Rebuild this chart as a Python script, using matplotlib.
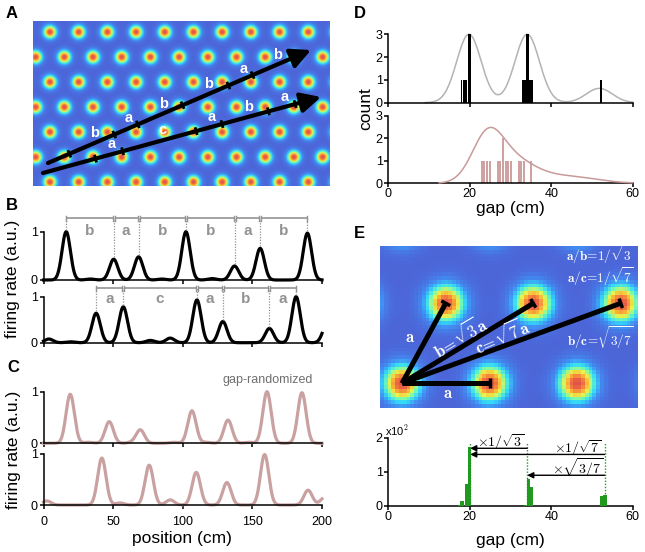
import numpy as np
import matplotlib
matplotlib.use('Agg')
import matplotlib.pyplot as plt
from matplotlib.colors import LinearSegmentedColormap

plt.rcParams['font.family'] = ['Liberation Sans', 'DejaVu Sans']
plt.rcParams['mathtext.fontset'] = 'cm'
plt.rcParams['axes.linewidth'] = 1.1

# ---------------- data ----------------
pos_max = 200.0  # track length (cm)

b_top_peaks = [16.3, 50.4, 68.3, 102.3, 137.2, 155.6, 189.5]
b_top_heights = [1.0, 0.43, 0.48, 1.0, 0.29, 0.655, 0.97]
b_top_gap_labels = ['b', 'a', 'b', 'b', 'a', 'b']
b_top_bumps = [33.7, 85.0, 121.0]
b_top_bump_heights = [0.02, 0.02, 0.03]

b_bot_peaks = [37.8, 57.3, 110.2, 128.8, 162.2, 181.4]
b_bot_heights = [0.64, 0.78, 0.93, 0.46, 0.31, 1.0]
b_bot_gap_labels = ['a', 'c', 'a', 'b', 'a']
b_bot_bumps = [3.8, 19.4, 76.7, 91.0, 203.5]
b_bot_bump_heights = [0.08, 0.02, 0.05, 0.10, 0.40]

c_top_peaks = [19.2, 47.2, 69.5, 106.6, 132.5, 160.5, 185.6]
c_top_heights = [0.95, 0.42, 0.26, 0.63, 0.45, 1.0, 0.98]
c_top_bumps = [32.3, 63.5, 93.4, 117.0, 147.0]
c_top_bump_heights = [0.02, 0.02, 0.02, 0.02, 0.02]

c_bot_peaks = [41.9, 75.9, 109.7, 131.7, 158.8, 190.0]
c_bot_heights = [0.92, 0.78, 0.64, 0.44, 0.99, 0.29]
c_bot_bumps = [2.4, 55.0, 91.0, 202.0]
c_bot_bump_heights = [0.08, 0.04, 0.10, 0.15]

field_sigma_cm = 3.0

# D: gap histograms (cm, count)
d_top_gaps = [18.0, 18.5, 19.0, 19.9, 33.0, 33.5, 34.1, 34.7, 35.2, 52.2]
d_top_counts = [1, 1, 1, 3, 1, 1, 3, 1, 1, 1]
d_top_kde_means = [19.8, 34.1, 51.8]
d_top_kde_heights = [3.0, 3.0, 0.63]
d_top_kde_sigmas = [3.0, 3.0, 3.2]

d_bot_gaps = [22.9, 23.6, 24.3, 25.0, 27.0, 27.5, 28.1, 28.8, 29.4, 30.1,
              32.0, 32.5, 33.2, 35.1]
d_bot_counts = [1, 1, 1, 1, 1, 1, 2, 1, 1, 1, 1, 1, 1, 1]
d_bot_kde_means = [24.3, 30.5, 44.0]
d_bot_kde_heights = [1.9, 1.0, 0.3]
d_bot_kde_sigmas = [3.8, 5.5, 7.0]

# E: gap histogram (x10^2)
e_gaps = [17.4, 18.1, 19.1, 20.0, 33.8, 34.4, 35.2, 52.4, 53.2]
e_counts = [0.03, 0.15, 0.64, 1.72, 0.04, 0.78, 0.56, 0.30, 0.31]
e_ref_gaps = [20.1, 34.1, 53.1]          # a, b, c
e_arrow_pairs = [(1, 0), (2, 0), (2, 1)]  # from -> to (indices into e_ref_gaps)
e_arrow_levels = [1.69, 1.51, 0.90]
e_arrow_labels = [r'$\times 1/\sqrt{3}$', r'$\times 1/\sqrt{7}$', r'$\times\sqrt{3/7}$']
e_arrow_label_pos = [(27.6, 1.88), (46.5, 1.70), (46.5, 1.13)]

# ---------------- figure ----------------
W, H = 645.0, 552.0
fig = plt.figure(figsize=(W / 100, H / 100), dpi=100)


def add_ax(l, t, r, b):
    return fig.add_axes([l / W, 1 - b / H, (r - l) / W, (b - t) / H])


def ftext(x, y, s, **kw):
    fig.text(x / W, 1 - y / H, s, **kw)


cmap = LinearSegmentedColormap.from_list('grid', [
    (0.00, (0.30, 0.40, 0.85)),
    (0.15, (0.26, 0.55, 0.95)),
    (0.30, (0.20, 0.85, 0.98)),
    (0.45, (0.45, 0.98, 0.70)),
    (0.60, (0.92, 0.95, 0.30)),
    (0.75, (0.98, 0.70, 0.22)),
    (0.90, (0.94, 0.42, 0.25)),
    (1.00, (0.88, 0.32, 0.30)),
])

TICK_FS = 9
LAB_FS = 12.5


def style(ax, xlim, ylim, xticks, yticks, xlabels=True, xpad=5, ypad=1):
    ax.set_xlim(*xlim)
    ax.set_ylim(*ylim)
    ax.spines['top'].set_visible(False)
    ax.spines['right'].set_visible(False)
    ax.spines['left'].set_bounds(yticks[0], yticks[-1])
    ax.set_xticks(xticks)
    ax.set_yticks(yticks)
    ax.tick_params(direction='out', length=3, width=1.1, labelsize=TICK_FS)
    ax.tick_params(axis='x', pad=xpad, labelbottom=xlabels)
    ax.tick_params(axis='y', pad=ypad)
    ax.patch.set_visible(False)


def rate(x, peaks, heights, bumps, bheights):
    y = np.zeros_like(x)
    for p, h in zip(list(peaks) + list(bumps), list(heights) + list(bheights)):
        y += h * np.exp(-(x - p) ** 2 / (2 * field_sigma_cm ** 2))
    return y


def mix(x, means, heights, sigmas):
    y = np.zeros_like(x)
    for m, h, s in zip(means, heights, sigmas):
        y += h * np.exp(-(x - m) ** 2 / (2 * s ** 2))
    return y


# ---------------- Panel A ----------------
A_l, A_r, A_t, A_b = 33, 330, 21, 186
A_row0_y, A_row_dy, A_col0_x, A_dx, A_sigma = 32.0, 25.0, 50.0, 28.7, 4.4
axA = add_ax(A_l, A_t, A_r, A_b)
XA, YA = np.meshgrid(np.arange(A_l + 0.25, A_r, 0.5), np.arange(A_t + 0.25, A_b, 0.5))
ZA = np.zeros_like(XA)
for m in range(-1, 9):
    yc = A_row0_y + m * A_row_dy
    x0 = A_col0_x - (A_dx / 2) * (m % 2)
    for j in range(-1, 12):
        xc = x0 + j * A_dx
        ZA += np.exp(-((XA - xc) ** 2 + (YA - yc) ** 2) / (2 * A_sigma ** 2))
axA.imshow(ZA, extent=(A_l, A_r, A_b, A_t), cmap=cmap, vmin=0, vmax=1,
           interpolation='bilinear', aspect='auto')
axA.set_xlim(A_l, A_r)
axA.set_ylim(A_b, A_t)
axA.axis('off')

tracks = [((48, 163), (311, 50), b_top_peaks, b_top_gap_labels),
          ((43, 173), (321, 97), b_bot_peaks, b_bot_gap_labels)]
for (x0, y0), (x1, y1), peaks, labels in tracks:
    axA.annotate('', xy=(x1, y1), xytext=(x0, y0),
                 arrowprops=dict(arrowstyle='-|>,head_length=0.6,head_width=0.3',
                                 lw=3, color='k', shrinkA=0, shrinkB=0,
                                 mutation_scale=20))
    L = np.hypot(x1 - x0, y1 - y0)
    ux, uy = (x1 - x0) / L, (y1 - y0) / L
    px, py = -uy, ux
    pts = [(x0 + ux * L * p / pos_max, y0 + uy * L * p / pos_max) for p in peaks]
    for tx, ty in pts:
        axA.plot([tx - px * 4, tx + px * 4], [ty - py * 4, ty + py * 4],
                 color='k', lw=2, solid_capstyle='butt')
        axA.plot([tx - ux * 3, tx + ux * 3], [ty - uy * 3, ty + uy * 3],
                 color='k', lw=1.5, solid_capstyle='butt')
    for i, lab in enumerate(labels):
        mx = (pts[i][0] + pts[i + 1][0]) / 2 + 3
        my = (pts[i][1] + pts[i + 1][1]) / 2 - 11
        axA.text(mx, my, lab, color='white', fontweight='bold', fontsize=10.5,
                 ha='center', va='center')

# ---------------- Panel B ----------------
xpos = np.linspace(0, pos_max, 1601)
GREY = '#939393'


def brackets(ax, peaks, heights, labels, ybr, ylab, cap):
    n = len(peaks)
    for i in range(n - 1):
        xa = peaks[i] + (0.7 if i > 0 else 0)
        xb = peaks[i + 1] - (0.7 if i + 1 < n - 1 else 0)
        ax.plot([xa, xb], [ybr, ybr], color=GREY, lw=1.2, clip_on=False,
                solid_capstyle='butt')
        for xx in (xa, xb):
            ax.plot([xx, xx], [ybr - cap, ybr + cap], color=GREY, lw=1.0,
                    clip_on=False)
        ax.text((peaks[i] + peaks[i + 1]) / 2, ylab, labels[i], color=GREY,
                fontweight='bold', fontsize=11, ha='center', va='baseline')
    for p, h in zip(peaks, heights):
        ax.plot([p, p], [h + 0.04, ybr], color=GREY, lw=0.9, ls=(0, (1, 1.2)),
                clip_on=False)


B_l, B_r = 43.5, 322
axB1 = add_ax(B_l, 231.7, B_r, 280)
axB1.plot(xpos, rate(xpos, b_top_peaks, b_top_heights, b_top_bumps, b_top_bump_heights),
          color='k', lw=2.3, clip_on=False)
style(axB1, (0, 200), (0, 1), [0, 50, 100, 150, 200], [0, 1], xlabels=False)
brackets(axB1, b_top_peaks, b_top_heights, b_top_gap_labels, 1.28, 0.93, 0.05)

axB2 = add_ax(B_l, 296.7, B_r, 342.7)
axB2.plot(xpos, rate(xpos, b_bot_peaks, b_bot_heights, b_bot_bumps, b_bot_bump_heights),
          color='k', lw=2.3, clip_on=False)
style(axB2, (0, 200), (0, 1), [0, 50, 100, 150, 200], [0, 1], xlabels=False)
brackets(axB2, b_bot_peaks, b_bot_heights, b_bot_gap_labels, 1.18, 0.857, 0.05)

# ---------------- Panel C ----------------
PINK = '#c9a1a1'
axC1 = add_ax(B_l, 391.7, B_r, 443.3)
axC1.plot(xpos, rate(xpos, c_top_peaks, c_top_heights, c_top_bumps, c_top_bump_heights),
          color=PINK, lw=2.3, clip_on=False)
style(axC1, (0, 200), (0, 1), [0, 50, 100, 150, 200], [0, 1], xlabels=False)

axC2 = add_ax(B_l, 454, B_r, 505)
axC2.plot(xpos, rate(xpos, c_bot_peaks, c_bot_heights, c_bot_bumps, c_bot_bump_heights),
          color=PINK, lw=2.3, clip_on=False)
style(axC2, (0, 200), (0, 1), [0, 50, 100, 150, 200], [0, 1], xlabels=True, xpad=5)
axC2.set_xticklabels(['0', '50', '100', '150', '200'])

ftext(313, 380, 'gap-randomized', color='#6f6f6f', fontsize=9, ha='right', va='center')
ftext(182, 538, 'position (cm)', fontsize=LAB_FS, ha='center', va='center')
ftext(12.5, 279, 'firing rate (a.u.)', fontsize=LAB_FS, rotation=90, ha='center', va='center')
ftext(14, 450, 'firing rate (a.u.)', fontsize=LAB_FS, rotation=90, ha='center', va='center')

# ---------------- Panel D ----------------
D_l, D_r = 388.3, 632.7
xg = np.linspace(0, 60, 1201)
axD1 = add_ax(D_l, 34.3, D_r, 102.7)
axD1.bar(d_top_gaps, d_top_counts, width=[0.42 if c < 2 else 0.7 for c in d_top_counts],
         color='k', linewidth=0, zorder=3)
kd1 = mix(xg, d_top_kde_means, d_top_kde_heights, d_top_kde_sigmas)
kd1 = np.where(kd1 > 0.005, kd1, np.nan)
axD1.plot(xg, kd1, color='#b3b3b3', lw=1.1, zorder=2, clip_on=False)
style(axD1, (0, 60), (0, 3), [0, 20, 40, 60], [0, 1, 2, 3], xlabels=False)

axD2 = add_ax(D_l, 115.8, D_r, 183.3)
axD2.bar(d_bot_gaps, d_bot_counts, width=0.5, color='#cfa2a2', linewidth=0, zorder=2)
kd2 = mix(xg, d_bot_kde_means, d_bot_kde_heights, d_bot_kde_sigmas)
kd2 = np.where(kd2 > 0.02, kd2, np.nan)
axD2.plot(xg, kd2, color='#c99a9a', lw=1.1, zorder=3, clip_on=False)
style(axD2, (0, 60), (0, 3), [0, 20, 40, 60], [0, 1, 2, 3], xlabels=True, xpad=0.5)
ftext(510.5, 209, 'gap (cm)', fontsize=LAB_FS, ha='center', va='center')
ftext(366, 109, 'count', fontsize=LAB_FS, rotation=90, ha='center', va='center')

# ---------------- Panel E (image) ----------------
E_l, E_r, E_t, E_b = 380, 638, 246, 408
E_row0_y, E_row_dy, E_col0_x, E_dx, E_sigma = 383.3, 80.0, 402.0, 87.5, 12.5
axE = add_ax(E_l, E_t, E_r, E_b)
nx, ny = 68, 43
ex = np.linspace(E_l, E_r, nx + 1)
ey = np.linspace(E_t, E_b, ny + 1)
XE, YE = np.meshgrid((ex[:-1] + ex[1:]) / 2, (ey[:-1] + ey[1:]) / 2)
ZE = np.zeros_like(XE)
for m in range(-1, 3):
    yc = E_row0_y - m * E_row_dy
    x0 = E_col0_x + (E_dx / 2) * (m % 2)
    for j in range(-2, 4):
        xc = x0 + j * E_dx
        ZE += np.exp(-((XE - xc) ** 2 + (YE - yc) ** 2) / (2 * E_sigma ** 2))
axE.imshow(ZE, extent=(E_l, E_r, E_b, E_t), cmap=cmap, vmin=0, vmax=1,
           interpolation='nearest', aspect='auto')
axE.set_xlim(E_l, E_r)
axE.set_ylim(E_b, E_t)
axE.axis('off')

origin = (E_col0_x, E_row0_y)
targets = [(E_col0_x + E_dx / 2, E_row0_y - E_row_dy),
           (E_col0_x + 1.5 * E_dx, E_row0_y - E_row_dy),
           (E_col0_x + 2.5 * E_dx, E_row0_y - E_row_dy),
           (E_col0_x + E_dx, E_row0_y)]
for tx, ty in targets:
    axE.plot([origin[0], tx], [origin[1], ty], color='k', lw=3.6, solid_capstyle='butt')
    L = np.hypot(tx - origin[0], ty - origin[1])
    px, py = -(ty - origin[1]) / L, (tx - origin[0]) / L
    axE.plot([tx - px * 5, tx + px * 5], [ty - py * 5, ty + py * 5], color='k', lw=2.5,
             solid_capstyle='butt')

WT = dict(color='white', fontsize=12)
axE.text(410, 337, r'$\mathbf{a}$', ha='center', va='center', **WT)
axE.text(448, 394, r'$\mathbf{a}$', ha='center', va='center', **WT)
axE.text(460, 337, r'$\mathbf{b\!=\!}\sqrt{\mathbf{3}}\mathbf{a}$', ha='center', va='center',
         rotation=31, rotation_mode='anchor', **WT)
axE.text(502, 336, r'$\mathbf{c\!=\!}\sqrt{\mathbf{7}}\mathbf{a}$', ha='center', va='center',
         rotation=23, rotation_mode='anchor', **WT)
WR = dict(color='white', fontsize=9.5, ha='right', va='center')
axE.text(634, 255, r'$\mathbf{a/b\!=\!1/}\sqrt{\mathbf{3}}$', **WR)
axE.text(634, 277, r'$\mathbf{a/c\!=\!1/}\sqrt{\mathbf{7}}$', **WR)
axE.text(634, 338, r'$\mathbf{b/c\!=\!}\sqrt{\mathbf{3/7}}$', **WR)

# ---------------- Panel E (histogram) ----------------
GREEN = '#1f9a1f'
axH = add_ax(D_l, 437.7, D_r, 506)
axH.bar(e_gaps, e_counts, width=0.75, color=GREEN, linewidth=0, zorder=3)
for g in e_ref_gaps:
    axH.plot([g, g], [0, 1.88], color=GREEN, lw=1.0, ls=(0, (1, 1.2)), zorder=2, clip_on=False)
for (i0, i1), lvl in zip(e_arrow_pairs, e_arrow_levels):
    axH.annotate('', xy=(e_ref_gaps[i1], lvl), xytext=(e_ref_gaps[i0], lvl),
                 arrowprops=dict(arrowstyle='-|>', lw=1.0, color='k', shrinkA=0,
                                 shrinkB=0, mutation_scale=9), zorder=4)
for lab, (lx, ly) in zip(e_arrow_labels, e_arrow_label_pos):
    axH.text(lx, ly, lab, fontsize=10, ha='center', va='center', clip_on=False)
style(axH, (0, 60), (0, 2), [0, 20, 40, 60], [0, 1, 2], xlabels=True, xpad=0.5)
ftext(385, 436, r'x10$^2$', fontsize=8, ha='left', va='baseline')
ftext(510.5, 541, 'gap (cm)', fontsize=LAB_FS, ha='center', va='center')

# ---------------- panel letters ----------------
for lab, (x, y) in zip('ABCDE', [(12, 14), (12, 206), (13, 367), (360, 13), (359, 234)]):
    ftext(x, y, lab, fontsize=12, fontweight='bold', ha='center', va='center')

fig.savefig('out.png', dpi=100)
